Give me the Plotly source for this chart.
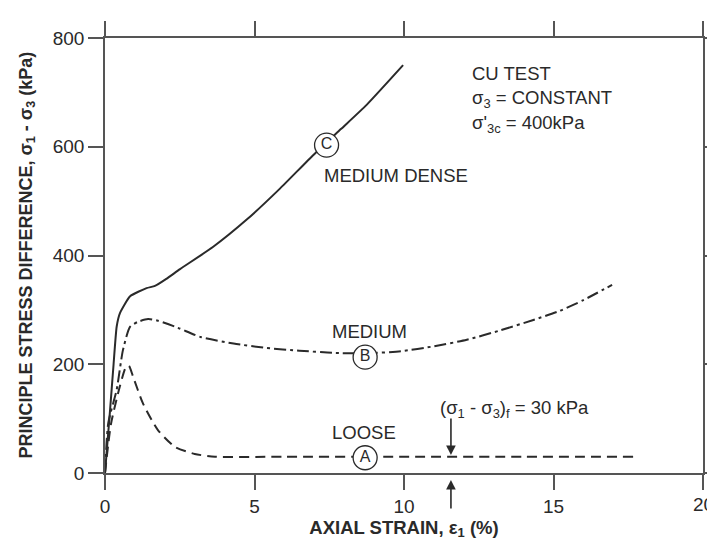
import plotly.graph_objects as go

# Data
strain_c = [0, 0.17, 0.28, 0.39, 0.5, 0.84, 1.39, 1.67, 2.05, 2.51, 3.62, 4.74, 5.85, 6.97, 7.9, 8.75, 9.97]
stress_c = [0, 116, 195, 269, 294, 325, 340, 344, 357, 375, 416, 466, 523, 585, 633, 677, 750]

strain_b = [0, 0.11, 0.39, 0.6, 0.84, 1.1, 1.44, 1.77, 2.44, 3.2, 4.3, 5.4, 6.5, 7.6, 8.7, 9.9, 11.0, 12.1, 13.2, 14.3, 15.2, 16.0, 16.96]
stress_b = [0, 92, 153, 226, 269, 278, 283, 280, 267, 250, 238, 230, 225, 221, 220, 224, 233, 245, 262, 281, 298, 318, 346]

strain_a = [0, 0.2, 0.5, 0.7, 0.8, 0.94, 1.27, 1.77, 2.34, 3.0, 3.68, 6, 10, 14, 17.7]
stress_a = [0, 90, 160, 195, 197, 177, 128, 79, 48, 35, 30, 30, 30, 30, 30]

label_letters = ["C", "B", "A"]
label_x = [7.41, 8.7, 8.7]
label_y = [603, 213, 28]

x_ticks = [0, 5, 10, 15, 20]
y_ticks = [0, 200, 400, 600, 800]

FONT = "Liberation Sans, Arial, sans-serif"
INK = "#2a2a2a"

fig = go.Figure()
fig.add_trace(go.Scatter(x=strain_c, y=stress_c, mode="lines",
                         line=dict(color=INK, width=2, shape="spline", smoothing=0.5),
                         showlegend=False, hoverinfo="skip"))
fig.add_trace(go.Scatter(x=strain_b, y=stress_b, mode="lines",
                         line=dict(color=INK, width=2, shape="spline", smoothing=0.6,
                                   dash="12px,4px,3px,4px"),
                         showlegend=False, hoverinfo="skip"))
fig.add_trace(go.Scatter(x=strain_a, y=stress_a, mode="lines",
                         line=dict(color=INK, width=2, shape="spline", smoothing=0.6,
                                   dash="10px,6px"),
                         showlegend=False, hoverinfo="skip"))
fig.add_trace(go.Scatter(x=label_x, y=label_y, mode="markers+text",
                         text=label_letters, textposition="middle center",
                         textfont=dict(family=FONT, size=16, color=INK),
                         marker=dict(symbol="circle", size=24, color="white",
                                     line=dict(color=INK, width=1.3)),
                         showlegend=False, hoverinfo="skip", cliponaxis=False))

ann_font = dict(family=FONT, size=18.5, color=INK)
annotations = [
    dict(x=12.2, y=735, text="CU TEST", xanchor="left"),
    dict(x=12.2, y=688, text="σ<sub>3</sub> = CONSTANT", xanchor="left"),
    dict(x=12.2, y=641, text="σ'<sub>3c</sub> = 400kPa", xanchor="left"),
    dict(x=9.73, y=548, text="MEDIUM DENSE", xanchor="center"),
    dict(x=8.86, y=261, text="MEDIUM", xanchor="center"),
    dict(x=8.66, y=74, text="LOOSE", xanchor="center"),
    dict(x=11.14, y=118, text="(σ<sub>1</sub> - σ<sub>3</sub>)<sub>f</sub> = 30 kPa", xanchor="left"),
]
for a in annotations:
    a.update(xref="x", yref="y", showarrow=False, font=ann_font, yanchor="middle")

# arrows
annotations.append(dict(x=11.57, y=33, xref="x", yref="y", ax=0, ay=-38,
                        showarrow=True, arrowhead=2, arrowsize=1.2, arrowwidth=1.6,
                        arrowcolor=INK, text=""))
annotations.append(dict(x=11.57, y=-0.016, xref="x", yref="paper", ax=0, ay=30,
                        showarrow=True, arrowhead=2, arrowsize=1.2, arrowwidth=1.6,
                        arrowcolor=INK, text=""))
# last x tick label, cut by the page edge as in the reference
annotations.append(dict(x=x_ticks[-1], y=-0.0713, xref="x", yref="paper", showarrow=False,
                        text=str(x_ticks[-1]), xanchor="center", yanchor="middle",
                        font=dict(family=FONT, size=19, color=INK)))
# y-axis title
annotations.append(dict(x=-0.1304, y=0.5, xref="paper", yref="paper", showarrow=False,
                        textangle=-90, xanchor="center", yanchor="middle",
                        text="<b>PRINCIPLE STRESS DIFFERENCE, σ<sub>1</sub> - σ<sub>3</sub> (kPa)</b>",
                        font=dict(family=FONT, size=18, color=INK)))

axis_common = dict(showline=True, linecolor="#555", linewidth=1.5, mirror="ticks",
                   ticks="outside", ticklen=15, tickwidth=1.5, tickcolor="#555",
                   showgrid=False, zeroline=False, automargin=False,
                   tickfont=dict(family=FONT, size=19, color=INK))

fig.update_layout(
    width=707, height=543,
    margin=dict(l=105, r=4, t=38, b=70),
    paper_bgcolor="white", plot_bgcolor="white",
    xaxis=dict(range=[0, 20], tickvals=x_ticks, ticktext=[str(v) for v in x_ticks],
               title=dict(text="<b>AXIAL STRAIN, ε<sub>1</sub> (%)</b>",
                          font=dict(family=FONT, size=18.5, color=INK), standoff=4),
               **axis_common),
    yaxis=dict(range=[0, 800], tickvals=y_ticks, ticktext=[str(v) for v in y_ticks],
               **axis_common),
    annotations=annotations,
)

fig.write_html("out.html")
